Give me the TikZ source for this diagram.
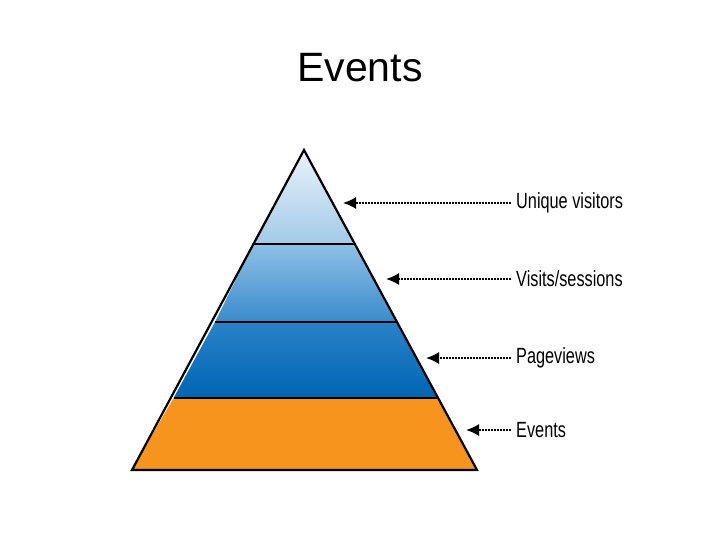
\documentclass[tikz,border=0pt]{standalone}
\usepackage{fontspec}
\setmainfont{Liberation Sans}
\newfontfamily\condfont[FakeStretch=0.74]{Liberation Sans}
\usetikzlibrary{arrows.meta}
\definecolor{lvlAtop}{HTML}{EAF2FA}
\definecolor{lvlAbot}{HTML}{A2CAE8}
\definecolor{lvlBtop}{HTML}{8FC0E6}
\definecolor{lvlBbot}{HTML}{3A8BCB}
\definecolor{lvlCtop}{HTML}{2A82C8}
\definecolor{lvlCbot}{HTML}{0065B2}
\definecolor{lvlD}{HTML}{F7941E}
\tikzset{
  lbl/.style={anchor=west, inner sep=0pt, font=\condfont\fontsize{22}{26}\selectfont},
  ptr/.style={-{Latex[length=13pt,width=12pt]}, line width=1.8pt, dash pattern=on 1.8pt off 1.2pt},
  sep/.style={line width=2.2pt, black},
}
\begin{document}
\begin{tikzpicture}[x=1pt,y=-1pt]
\useasboundingbox (0,0) rectangle (720,540);
% title
\node[font=\fontsize{41}{46}\selectfont, inner sep=0pt] (title) at (360,68) {Events};
% geometry
\coordinate (apex) at (304,150);
\coordinate (bl) at (132,470);
\coordinate (br) at (477,470);
\coordinate (aL) at (253.5,244); \coordinate (aR) at (355,244);
\coordinate (bL) at (215,322);   \coordinate (bR) at (397,322);
\coordinate (cL) at (173.6,398); \coordinate (cR) at (438,398);
% bands
\shade[top color=lvlAtop, bottom color=lvlAbot] (apex) -- (aR) -- (aL) -- cycle;
\shade[top color=lvlBtop, bottom color=lvlBbot] (aL) -- (aR) -- (bR) -- (bL) -- cycle;
\shade[top color=lvlCtop, bottom color=lvlCbot] (bL) -- (bR) -- (cR) -- (cL) -- cycle;
\fill[lvlD] (cL) -- (cR) -- (br) -- (bl) -- cycle;
\draw[sep] (aL) -- (aR);
\draw[sep] (bL) -- (bR);
\draw[sep] (cL) -- (cR);
\draw[line width=2.2pt, line join=miter] (apex) -- (br) -- (bl) -- cycle;
% labels
\node[lbl] (uv) at (516,203) {Unique visitors};
\node[lbl] (vs) at (516,279) {Visits/sessions};
\node[lbl] (pv) at (516,358) {Pageviews};
\node[lbl] (ev) at (516,430) {Events};
\coordinate (tuv) at (343,203);
\coordinate (tvs) at (386,279);
\coordinate (tpv) at (426,358);
\coordinate (tev) at (466,430);
\draw[ptr] ([xshift=-5pt]uv.west) -- (tuv);
\draw[ptr] ([xshift=-5pt]vs.west) -- (tvs);
\draw[ptr] ([xshift=-5pt]pv.west) -- (tpv);
\draw[ptr] ([xshift=-5pt]ev.west) -- (tev);
\end{tikzpicture}
\end{document}
